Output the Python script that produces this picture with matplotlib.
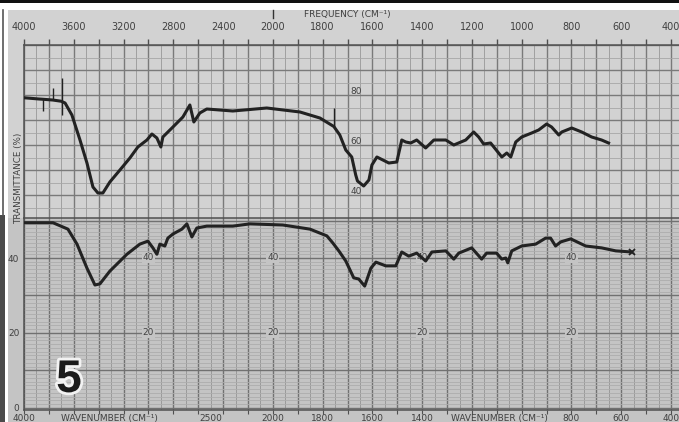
import numpy as np
import matplotlib
matplotlib.use('Agg')
import matplotlib.pyplot as plt
import matplotlib.patheffects as pe
from matplotlib.patches import Rectangle
from matplotlib.lines import Line2D
from matplotlib.ticker import FixedLocator, FuncFormatter

# upper spectrum, wavenumber (cm-1) / transmittance (%)
top_wn = [4000, 3880, 3850, 3770, 3700, 3688,
          3670, 3615, 3550, 3494, 3446, 3406, 3366, 3310, 3229, 3149, 3085, 3012,
          2972, 2932, 2900, 2884, 2803, 2723, 2667, 2635, 2587, 2531, 2322, 2049,
          1891, 1811, 1755, 1731, 1707, 1683, 1667, 1660, 1635, 1614,
          1602, 1582, 1534, 1502, 1482, 1466, 1446, 1422, 1386, 1353, 1305, 1273,
          1225, 1193, 1173, 1153, 1125, 1080, 1060, 1044, 1024, 1000, 960, 932,
          900, 880, 851, 839, 799, 759, 719, 679, 651]
top_t = [78.9, 78.4, 78.3, 78.0, 77.5, 77.2,
         76.8, 72.0, 62.0, 52.8, 43.2, 40.8, 40.8, 45.2, 50.0, 54.8, 59.2, 62.0,
         64.4, 62.8, 59.2, 63.2, 67.2, 71.2, 76.0, 69.2, 72.8, 74.4, 73.6, 74.8,
         73.2, 70.8, 67.4, 64.0, 58.0, 55.2, 48.0, 45.6, 43.6, 46.0,
         52.0, 55.2, 52.8, 53.2, 62.0, 61.2, 60.8, 62.0, 58.8, 62.0, 62.0, 60.0,
         62.0, 65.2, 63.2, 60.4, 60.8, 55.2, 56.8, 55.2, 61.2, 63.2, 64.8, 66.0,
         68.4, 67.2, 64.0, 65.2, 66.8, 65.2, 63.2, 62.0, 60.8]
# thin pen spikes on the upper trace
spike_wn = [3850, 3770, 3697, 1755]
spike_lo = [73.5, 78.0, 72.0, 67.4]
spike_hi = [78.3, 83.0, 87.0, 75.0]

# lower spectrum
bot_wn = [4000, 3767, 3647, 3574, 3494, 3430, 3390, 3310, 3173, 3069, 3004, 2964,
          2932, 2908, 2868, 2844, 2803, 2731, 2691, 2651, 2611, 2531, 2322, 2185,
          1960, 1851, 1783, 1759, 1735, 1707, 1675, 1655, 1631, 1606, 1586, 1546,
          1506, 1482, 1454, 1422, 1386, 1361, 1305, 1273, 1253, 1201, 1161, 1141,
          1101, 1080, 1064, 1056, 1040, 1000, 944, 904, 884, 864, 843, 803, 743,
          679, 622, 558]
bot_t = [49.4, 49.4, 47.7, 43.7, 37.3, 32.8, 33.1, 36.5, 41.0, 43.7, 44.5, 42.7,
         41.0, 43.7, 43.2, 45.3, 46.4, 47.7, 49.1, 45.6, 48.0, 48.5, 48.5, 49.1,
         48.8, 47.7, 45.9, 44.0, 41.9, 39.2, 34.7, 34.4, 32.5, 37.3, 38.9, 37.9,
         37.9, 41.6, 40.5, 41.3, 39.2, 41.6, 41.9, 39.7, 41.3, 42.7, 39.7, 41.3,
         41.3, 39.7, 40.0, 38.7, 41.9, 43.2, 43.7, 45.3, 45.3, 43.2, 44.3, 45.1, 43.2,
         42.7, 41.9, 41.6]

top_labels = [4000, 3600, 3200, 2800, 2400, 2000, 1800, 1600, 1400, 1200, 1000, 800, 600, 400]
inner_top_t = [80, 60, 40]
inner_bot_wn = [3000, 2000, 1400, 800]
inner_bot_t = [40, 20]
bot_axis_labels = [(4000, '4000'), (3310, 'WAVENUMBER (CM⁻¹)'), (2500, '2500'),
                   (2000, '2000'), (1800, '1800'), (1600, '1600'), (1400, '1400'),
                   (1090, 'WAVENUMBER (CM⁻¹)'), (800, '800'), (600, '600'), (400, '400')]

W, H = 679, 422
paper_top = '#d2d2d2'
paper_bot = '#c4c4c4'
ink = '#222222'
txt = '#404040'


def fx(x):
    return x / W


def fy(y):
    return 1 - y / H


def fwd(w):
    w = np.asarray(w, float)
    return np.where(w > 2000, 2000 + (w - 2000) / 2, w)


def inv(u):
    u = np.asarray(u, float)
    return np.where(u > 2000, 2000 + (u - 2000) * 2, u)


major_x = np.concatenate([np.arange(4000, 2000, -200), np.arange(2000, 300, -100)])
half_x = np.concatenate([np.arange(3900, 2000, -200), np.arange(1950, 360, -100)])

fig = plt.figure(figsize=(6.79, 4.22), dpi=100)
fig.patch.set_facecolor('white')

# paper + scan borders
fig.add_artist(Rectangle((fx(8), fy(218)), fx(671), fy(10) - fy(218), transform=fig.transFigure,
                         facecolor=paper_top, edgecolor='none', zorder=-10))
fig.add_artist(Rectangle((fx(8), 0), fx(671), fy(218), transform=fig.transFigure,
                         facecolor=paper_bot, edgecolor='none', zorder=-10))
fig.add_artist(Rectangle((0, fy(2.5)), 1, fy(0) - fy(2.5), transform=fig.transFigure,
                         facecolor='#111111', edgecolor='none', zorder=-9))
fig.add_artist(Rectangle((0, 0), fx(5), fy(215), transform=fig.transFigure,
                         facecolor='#4a4a4a', edgecolor='none', zorder=-9))
fig.add_artist(Line2D([fx(2.5), fx(2.5)], [fy(10), fy(215)], transform=fig.transFigure,
                      color='#555555', lw=1.2, zorder=-9))
fig.add_artist(Line2D([fx(273), fx(273)], [fy(10), fy(18)], transform=fig.transFigure,
                      color='#333333', lw=1.0, zorder=-9))

fig.text(fx(347), fy(14), 'FREQUENCY (CM⁻¹)', ha='center', va='center', fontsize=6.5,
         color=txt, zorder=-1)
fig.text(fx(19), fy(178), 'TRANSMITTANCE (%)', ha='center', va='center', rotation=90,
         fontsize=6.3, color=txt, zorder=-1)


def chart_paper(ax, face, ymaj, ymin, cmaj, cmin, hcmin):
    ax.set_facecolor(face)
    ax.set_xscale('function', functions=(fwd, inv))
    ax.set_xlim(4004, 368)
    ax.xaxis.set_major_locator(FixedLocator(major_x))
    ax.xaxis.set_minor_locator(FixedLocator(half_x))
    ax.yaxis.set_major_locator(FixedLocator(ymaj))
    ax.yaxis.set_minor_locator(FixedLocator(ymin))
    ax.grid(which='minor', axis='x', color=cmin, lw=0.7)
    ax.grid(which='minor', axis='y', color=hcmin, lw=0.6)
    ax.grid(which='major', color=cmaj, lw=1.0)
    ax.set_axisbelow(True)
    ax.tick_params(which='minor', length=0)
    for s in ax.spines.values():
        s.set_color('#505050')
        s.set_linewidth(1.1)
    ax.spines['right'].set_visible(False)


# upper chart
ax1 = fig.add_axes([fx(23.5), fy(218), 1 - fx(23.5), fy(45) - fy(218)])
chart_paper(ax1, paper_top, np.arange(40, 101, 10), np.arange(35, 101, 10),
            '#7a7a7a', '#a0a0a0', '#a6a6a6')
ax1.set_ylim(100 - (218 - 45) * 0.4, 100)
ax1.spines['bottom'].set_visible(False)
ax1.xaxis.tick_top()
ax1.tick_params(axis='x', which='major', top=True, bottom=False, direction='out', length=4.5,
                width=1.0, color='#505050', labelsize=7, labelcolor=txt, pad=4.5)
ax1.xaxis.set_major_formatter(FuncFormatter(lambda v, p: str(int(round(v))) if int(round(v)) in top_labels else ''))
ax1.tick_params(axis='y', which='major', length=0, labelleft=False)
for t in inner_top_t:
    ax1.text(1665, t + 1.2, str(t), ha='center', va='center', fontsize=6.5, color=txt, zorder=1)
ax1.plot(top_wn, top_t, color=ink, lw=2.2, solid_joinstyle='round', zorder=3)
ax1.vlines(spike_wn, spike_lo, spike_hi, color=ink, lw=1.0, zorder=3)

# lower chart
ax2 = fig.add_axes([fx(23.5), fy(410), 1 - fx(23.5), fy(218) - fy(410)])
chart_paper(ax2, paper_bot, np.arange(0, 51, 10), np.arange(0, 51, 1),
            '#717171', '#9a9a9a', '#adadad')
ax2.set_ylim(40 - (410 - 258) * 0.2667, 40 + (258 - 218) * 0.2667)
ax2.tick_params(axis='x', which='major', bottom=True, direction='out', length=3,
                color='#505050', labelbottom=False)
ax2.set_yticks([0, 10, 20, 30, 40, 50])
ax2.set_yticklabels(['0', '', '20', '', '40', ''])
ax2.tick_params(axis='y', which='major', length=0, labelsize=6.5, labelcolor=txt, pad=3)
for w in inner_bot_wn:
    for t in inner_bot_t:
        ax2.text(w, t, str(t), ha='center', va='center', fontsize=6.5, color=txt, zorder=1,
                 bbox=dict(facecolor=paper_bot, edgecolor='none', pad=0.6))
ax2.plot(bot_wn, bot_t, color=ink, lw=2.2, solid_joinstyle='round', zorder=3)
ax2.plot(bot_wn[-1], bot_t[-1], marker='x', ms=5, mew=1.3, color=ink, zorder=3)
for w, lab in bot_axis_labels:
    ax2.text(w, -0.045, lab, transform=ax2.get_xaxis_transform(), ha='center', va='center',
             fontsize=6.5, color=txt, clip_on=False)

ax2.text(fx(69), fy(380), '5', transform=fig.transFigure, ha='center', va='center',
         fontsize=33, fontweight='bold', family=['Liberation Sans', 'DejaVu Sans'], color='#1a1a1a',
         path_effects=[pe.withStroke(linewidth=4, foreground='#f2f2f2')], zorder=4)

fig.savefig('out.png', dpi=100)
